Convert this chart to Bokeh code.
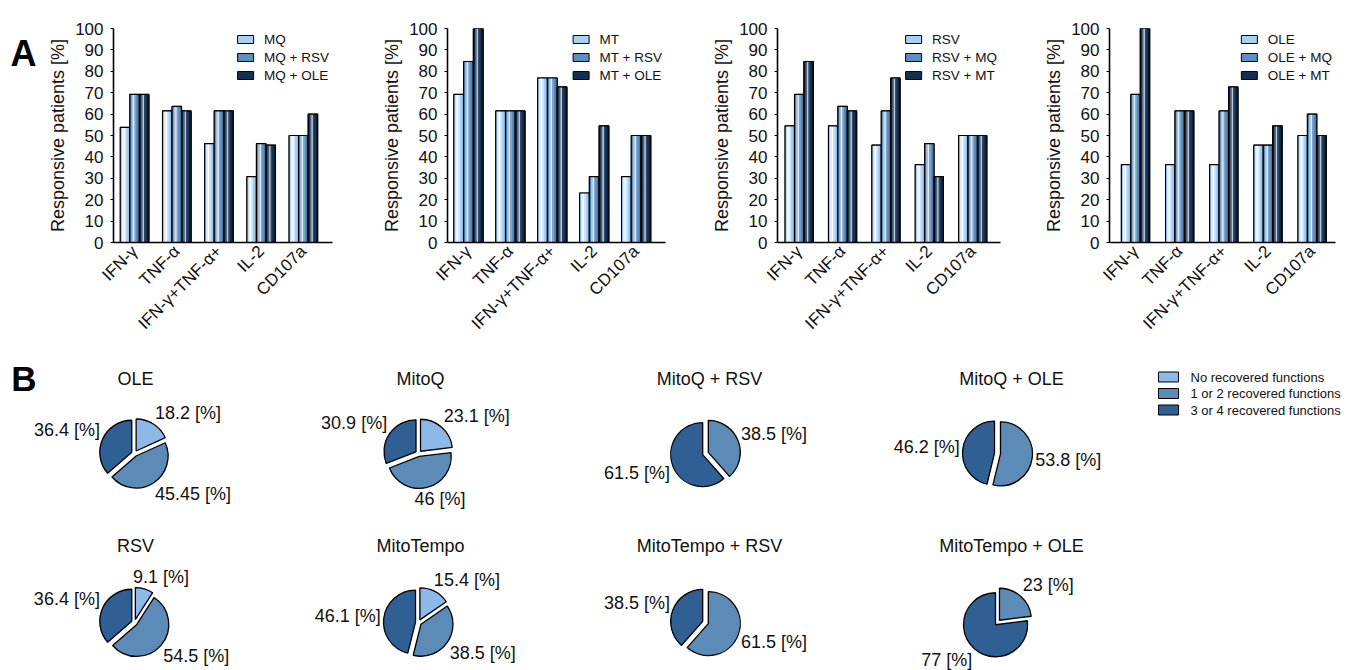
import math
from bokeh.plotting import figure
from bokeh.models import Range1d, FixedTicker, Legend, LegendItem, ColumnDataSource
from bokeh.layouts import column, row
from bokeh.embed import file_html
from bokeh.resources import INLINE
from bokeh.core.properties import value

FONT = "Liberation Sans"

# ---------------- data: panel A ----------------
categories = ["IFN-γ", "TNF-α", "IFN-γ+TNF-α+", "IL-2", "CD107a"]

mq_names = ["MQ", "MQ + RSV", "MQ + OLE"]
mq = [53.8, 61.5, 46.2, 30.8, 50.0]
mq_rsv = [69.2, 63.6, 61.5, 46.2, 50.0]
mq_ole = [69.2, 61.5, 61.5, 45.5, 60.0]

mt_names = ["MT", "MT + RSV", "MT + OLE"]
mt = [69.2, 61.5, 76.9, 23.1, 30.8]
mt_rsv = [84.6, 61.5, 76.9, 30.8, 50.0]
mt_ole = [100.0, 61.5, 72.7, 54.5, 50.0]

rsv_names = ["RSV", "RSV + MQ", "RSV + MT"]
rsv = [54.5, 54.5, 45.5, 36.4, 50.0]
rsv_mq = [69.2, 63.6, 61.5, 46.2, 50.0]
rsv_mt = [84.6, 61.5, 76.9, 30.8, 50.0]

ole_names = ["OLE", "OLE + MQ", "OLE + MT"]
ole = [36.4, 36.4, 36.4, 45.5, 50.0]
ole_mq = [69.2, 61.5, 61.5, 45.5, 60.0]
ole_mt = [100.0, 61.5, 72.7, 54.5, 50.0]

y_ticks = list(range(0, 101, 10))

# ---------------- data: panel B ----------------
pie_legend = ["No recovered functions", "1 or 2 recovered  functions", "3 or 4 recovered functions"]
pie_titles = ["OLE", "MitoQ", "MitoQ + RSV", "MitoQ + OLE",
              "RSV", "MitoTempo", "MitoTempo + RSV", "MitoTempo + OLE"]
pie_none = [18.2, 23.1, 0, 0, 9.1, 15.4, 0, 0]
pie_one_two = [45.45, 46, 38.5, 53.8, 54.5, 38.5, 61.5, 23]
pie_three_four = [36.4, 30.9, 61.5, 46.2, 36.4, 46.1, 38.5, 77]

# ---------------- styles ----------------
TXT = "#111111"
bar_profiles = [
    ["#9CC4EE", "#E4F0FC", "#FFFFFF", "#CBE2F8", "#A8CDF2", "#8DB9E8"],
    ["#4E7DAD", "#A6C2DE", "#E0EAF4", "#7EA4CB", "#5C8AB9", "#44729F"],
    ["#0D223D", "#4C637F", "#BCC8D6", "#2C4767", "#15304F", "#0A1B31"],
]
bar_base = ["#A9CFF3", "#5F8FC0", "#14304F"]
pie_colors = ["#8DB9E9", "#5C8BB8", "#2F5F93"]

TOP_H = 345
FRAME_BOTTOM = 242


def bar_chart(names, series, width, lb, rb, top, xs, xe, bw):
    p = figure(width=width, height=TOP_H, x_range=Range1d(xs, xe), y_range=Range1d(0, 100),
               output_backend="svg", toolbar_location=None,
               min_border_left=lb, min_border_right=rb, min_border_top=top,
               min_border_bottom=TOP_H - FRAME_BOTTOM)
    p.grid.visible = False
    p.outline_line_color = None
    idx = list(range(len(categories)))
    items = []
    nstrip = len(bar_profiles[0])
    for s, vals in enumerate(series):
        off = (s - 1) * bw
        xb = [i + off for i in idx]
        base = p.vbar(x=xb, top=vals, bottom=0, width=bw, fill_color=bar_base[s],
                      line_color="black", line_width=1)
        for k in range(nstrip):
            so = -bw / 2 + (k + 0.5) * bw / nstrip
            p.vbar(x=[v + so for v in xb], top=vals, bottom=0, width=bw / nstrip * 1.04,
                   fill_color=bar_profiles[s][k], line_color=None)
        p.vbar(x=xb, top=vals, bottom=0, width=bw, fill_color=None,
               line_color="black", line_width=1.1)
        items.append(LegendItem(label=names[s], renderers=[base]))
    leg = Legend(items=items, location="top_right", background_fill_alpha=0,
                 border_line_color=None, label_text_font=FONT,
                 label_text_font_size="13.5px", label_text_color=TXT,
                 glyph_width=20, glyph_height=10, label_height=16, spacing=2,
                 padding=2, margin=3, label_standoff=9)
    p.add_layout(leg)

    xa = p.xaxis[0]
    xa.ticker = FixedTicker(ticks=idx)
    xa.major_label_overrides = {i: c for i, c in zip(idx, categories)}
    xa.major_label_orientation = math.pi / 4
    xa.major_tick_in = 0
    xa.major_tick_out = 0
    xa.minor_tick_line_color = None
    xa.axis_line_width = 1.6
    xa.axis_line_color = "black"
    xa.major_label_text_font = FONT
    xa.major_label_text_font_size = "17px"
    xa.major_label_text_color = TXT
    xa.major_label_standoff = 6

    ya = p.yaxis[0]
    ya.ticker = FixedTicker(ticks=y_ticks)
    ya.major_tick_in = 0
    ya.major_tick_out = 3
    ya.minor_tick_line_color = None
    ya.axis_line_width = 1.6
    ya.axis_line_color = "black"
    ya.major_label_text_font = FONT
    ya.major_label_text_font_size = "17px"
    ya.major_label_text_color = TXT
    ya.major_label_standoff = 7
    ya.axis_label = "Responsive patients [%]"
    ya.axis_label_text_font = FONT
    ya.axis_label_text_font_size = "18px"
    ya.axis_label_text_font_style = "normal"
    ya.axis_label_text_color = TXT
    ya.axis_label_standoff = 4
    return p


# panel letter "A"
fa = figure(width=42, height=TOP_H, x_range=Range1d(0, 42), y_range=Range1d(0, TOP_H),
            output_backend="svg", toolbar_location=None, min_border=0,
            x_axis_location=None, y_axis_location=None)
fa.grid.visible = False
fa.outline_line_color = None
fa.text(x=[10], y=[TOP_H - 40], text=["A"], text_align="left", text_baseline="alphabetic",
        text_font=value(FONT), text_font_size="36px", text_font_style="bold",
        text_color="black")

f1 = bar_chart(mq_names, [mq, mq_rsv, mq_ole], 300, 71, 10, 25, -0.5, 4.69, 0.226)
f2 = bar_chart(mt_names, [mt, mt_rsv, mt_ole], 330, 105, 7, 23, -0.5, 4.70, 0.233)
f3 = bar_chart(rsv_names, [rsv, rsv_mq, rsv_mt], 332, 105, 4, 25, -0.5, 4.64, 0.217)
f4 = bar_chart(ole_names, [ole, ole_mq, ole_mt], 343, 105, 12, 28, -0.59, 4.53, 0.214)

# ---------------- panel B ----------------
BW, BH = 1347, 325
pb = figure(width=BW, height=BH, x_range=Range1d(0, BW), y_range=Range1d(0, BH),
            output_backend="svg", toolbar_location=None, min_border=0,
            x_axis_location=None, y_axis_location=None)
pb.grid.visible = False
pb.outline_line_color = None

col_x = [134, 418, 705, 997]
row_y = [217, 48]
title_x = [135, 420, 709, 1011]
title_y = [291.5, 125]
RADIUS = 32
EXPLODE = 3
LABEL_R = 38
FS = 18
cw = {'.': .278, ' ': .278, '[': .278, ']': .278, '%': .889}


def text_w(s):
    return FS * sum(cw.get(ch, .556) for ch in s)


def clamp(v):
    return max(-1.0, min(1.0, v))


wx, wy, ws, we, wc = [], [], [], [], []
lx, ly, lt = [], [], []
tx, ty, tt = [], [], []
for n, title in enumerate(pie_titles):
    r, c = divmod(n, 4)
    cx, cy = col_x[c], row_y[r]
    tx.append(title_x[c]); ty.append(title_y[r]); tt.append(title)
    vals = [pie_none[n], pie_one_two[n], pie_three_four[n]]
    tot = sum(vals)
    acc = 0.0
    for k, v in enumerate(vals):
        if v <= 0:
            continue
        a0 = acc / tot
        a1 = (acc + v) / tot
        acc += v
        th = 2 * math.pi * (a0 + a1) / 2  # clockwise from north
        sx, sy = math.sin(th), math.cos(th)
        wx.append(cx + EXPLODE * sx)
        wy.append(cy + EXPLODE * sy)
        ws.append(math.pi / 2 - 2 * math.pi * a1)
        we.append(math.pi / 2 - 2 * math.pi * a0)
        wc.append(pie_colors[k])
        lab = f"{v:g} [%]"
        w = text_w(lab)
        lx.append(cx + LABEL_R * sx + w / 2 * clamp(2 * sx))
        ly.append(max(cy + LABEL_R * sy + 9 * clamp(2 * sy), 10))
        lt.append(lab)

pb.wedge(x="x", y="y", radius=RADIUS, radius_units="screen", start_angle="s",
         end_angle="e", fill_color="c", line_color="black", line_width=1.3,
         source=ColumnDataSource(dict(x=wx, y=wy, s=ws, e=we, c=wc)))
pb.text(x=lx, y=ly, text=lt, text_align="center", text_baseline="middle",
        text_font=value(FONT), text_font_size="18px", text_color=TXT)
pb.text(x=tx, y=ty, text=tt, text_align="center", text_baseline="middle",
        text_font=value(FONT), text_font_size="18px", text_color=TXT)

# legend for pies
lg_x = 1168
lg_y0 = 293.5
lg_dy = 16.5
lgy = [lg_y0 - i * lg_dy for i in range(len(pie_legend))]
pb.rect(x=[lg_x] * 3, y=lgy, width=20, height=10, fill_color=pie_colors,
        line_color="black", line_width=1)
pb.text(x=[lg_x + 22] * 3, y=lgy, text=pie_legend, text_align="left",
        text_baseline="middle", text_font=value(FONT), text_font_size="13px",
        text_color=TXT)

pb.text(x=[10.7], y=[BH - 378.3 + 345], text=["B"], text_align="left",
        text_baseline="alphabetic", text_font=value(FONT), text_font_size="35px",
        text_font_style="bold", text_color="black")

layout = column(row(fa, f1, f2, f3, f4), pb)
open("out.html", "w").write(file_html(layout, INLINE, title="chart"))
